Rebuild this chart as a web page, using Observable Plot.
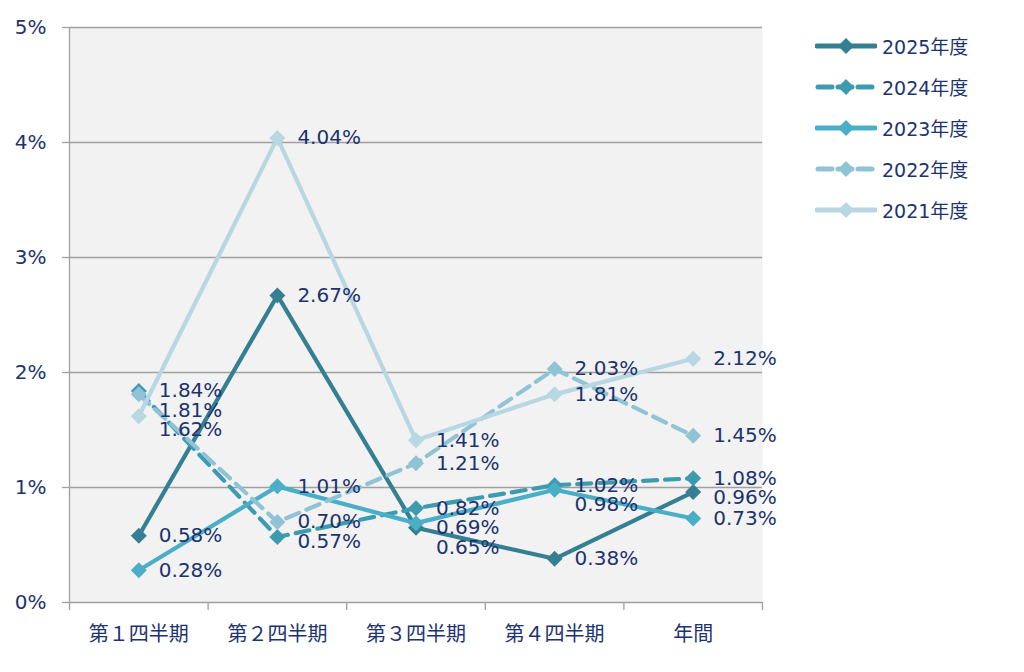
<!DOCTYPE html>
<html>
<head>
<meta charset="utf-8">
<script src="https://cdn.jsdelivr.net/npm/d3@7"></script>
<script src="https://cdn.jsdelivr.net/npm/@observablehq/plot@0.6"></script>
<style>
  html, body { margin: 0; padding: 0; background: #ffffff; }
  #wrap { position: relative; width: 1024px; height: 672px; overflow: hidden; }
  #legend { position: absolute; left: 815px; top: 25px; font-family: "DejaVu Sans", "Noto Sans CJK JP", sans-serif; font-size: 19px; color: #1c3370; }
  .item { display: flex; align-items: center; height: 41px; }
  .item svg { margin-right: 5px; }
</style>
</head>
<body>
<div id="wrap"><div id="legend"></div></div>
<script>
const categories = ["第１四半期", "第２四半期", "第３四半期", "第４四半期", "年間"];
const seriesNames = ["2025年度", "2024年度", "2023年度", "2022年度", "2021年度"];
const v2025 = [0.58, 2.67, 0.65, 0.38, 0.96];
const v2024 = [1.84, 0.57, 0.82, 1.02, 1.08];
const v2023 = [0.28, 1.01, 0.69, 0.98, 0.73];
const v2022 = [1.81, 0.70, 1.21, 2.03, 1.45];
const v2021 = [1.62, 4.04, 1.41, 1.81, 2.12];
const yTicks = [0, 1, 2, 3, 4, 5];

const seriesValues = [v2025, v2024, v2023, v2022, v2021];
const colors = ["#357f92", "#3d9bb0", "#4aaec7", "#8fc3d5", "#b7d7e2"];
const dashes = [null, "14,8", null, "14,8", null];
const navy = "#1c3370";
const grid = "#a0a0a0";

const rows = [];
seriesValues.forEach((vals, s) => vals.forEach((v, i) => rows.push({s, name: seriesNames[s], i, x: i + 0.5, v})));

// simple label de-overlap per category (in data units)
const labels = [];
categories.forEach((c, i) => {
  const r = rows.filter(d => d.i === i).sort((a, b) => b.v - a.v);
  let prev = null;
  r.forEach(d => {
    let ly = d.v;
    if (prev !== null && prev - ly < 0.17) ly = prev - 0.17;
    labels.push({...d, ly});
    prev = ly;
  });
});

const marks = [
  Plot.frame({fill: "#f2f2f2", stroke: null}),
  Plot.ruleY([1, 2, 3, 4, 5], {stroke: grid, strokeWidth: 1.3}),
  Plot.ruleX([0], {stroke: grid, strokeWidth: 1.3}),
  Plot.ruleY([0], {stroke: grid, strokeWidth: 1.3}),
  Plot.axisY({ticks: yTicks, tickSize: 7, text: null, label: null, color: grid, strokeWidth: 1.3}),
  Plot.axisY({ticks: yTicks, tickSize: 0, tickPadding: 23, label: null, tickFormat: d => d + "%", color: navy}),
  Plot.axisX({ticks: [0, 1, 2, 3, 4, 5], tickSize: 8, text: null, label: null, color: grid, strokeWidth: 1.3}),
  Plot.axisX({ticks: [0.5, 1.5, 2.5, 3.5, 4.5], tickSize: 0, tickPadding: 24, label: null, tickFormat: d => categories[Math.round(d - 0.5)], color: navy, fontFamily: "Noto Sans CJK JP, sans-serif"})
];
seriesValues.forEach((vals, s) => {
  const data = rows.filter(d => d.s === s);
  const opts = {x: "x", y: "v", stroke: colors[s], strokeWidth: 4.2, strokeLinejoin: "round"};
  if (dashes[s]) opts.strokeDasharray = dashes[s];
  marks.push(Plot.line(data, opts));
  marks.push(Plot.dot(data, {x: "x", y: "v", symbol: "diamond2", r: 7.2, fill: colors[s], stroke: null}));
});
marks.push(Plot.text(labels, {x: "x", y: "ly", text: d => d.v.toFixed(2) + "%", dx: 20, textAnchor: "start", fill: navy}));

const chart = Plot.plot({
  width: 1024,
  height: 672,
  marginLeft: 69,
  marginRight: 262,
  marginTop: 27,
  marginBottom: 70,
  x: {domain: [0, 5], axis: null},
  y: {domain: [0, 5], axis: null},
  style: {fontFamily: "DejaVu Sans, Noto Sans CJK JP, sans-serif", fontSize: "20px", background: "#ffffff", overflow: "visible"},
  marks
});
document.getElementById("wrap").prepend(chart);

const legend = document.getElementById("legend");
seriesNames.forEach((n, s) => {
  const item = document.createElement("div");
  item.className = "item";
  const dash = dashes[s] ? `stroke-dasharray="14,6" stroke-dashoffset="-1"` : "";
  item.innerHTML = `<svg width="62" height="20" viewBox="0 0 62 20"><line x1="2" x2="60" y1="10" y2="10" stroke="${colors[s]}" stroke-width="5" stroke-linecap="round" ${dash}/><path d="M31,2 L39,10 L31,18 L23,10 Z" fill="${colors[s]}"/></svg><span>${n}</span>`;
  legend.appendChild(item);
});
</script>
</body>
</html>
